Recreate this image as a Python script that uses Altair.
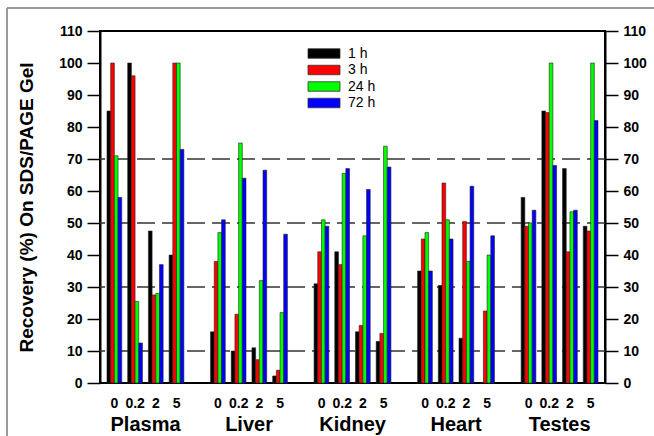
import altair as alt
import pandas as pd

tissues = ["Plasma", "Liver", "Kidney", "Heart", "Testes"]
doses = ["0", "0.2", "2", "5"]
times = ["1 h", "3 h", "24 h", "72 h"]
colors = ["#000000", "#ff0000", "#00ff00", "#0000ff"]

# values ordered tissue by tissue, dose 0, 0.2, 2, 5 within each tissue
h1 = [85, 100, 47.5, 40, 16, 10, 11, 2.2, 31, 41, 16, 13, 35, 30.5, 14, 0, 58, 85, 67, 49]
h3 = [100, 96, 27.5, 100, 38, 21.5, 7.3, 4, 41, 37, 18, 15.5, 45, 62.5, 50.5, 22.5, 49, 84.5, 41, 47.5]
h24 = [71, 25.5, 28, 100, 47, 75, 32, 22, 51, 65.5, 46, 74, 47, 51, 38, 40, 50, 100, 53.5, 100]
h72 = [58, 12.5, 37, 73, 51, 64, 66.5, 46.5, 49, 67, 60.5, 67.5, 35, 45, 61.5, 46, 54, 68, 54, 82]
series = [h1, h3, h24, h72]

grid_values = [10, 30, 50, 70]

rows = []
for k, (t, vals) in enumerate(zip(times, series)):
    for n, v in enumerate(vals):
        i, j = divmod(n, len(doses))
        rows.append({"tissue": tissues[i], "dose": doses[j], "time": t,
                     "ti": i, "dj": j, "tk": k, "value": v})
df = pd.DataFrame(rows)

dose_lab = pd.DataFrame([{"ti": i, "dj": j, "label": d}
                         for i in range(len(tissues)) for j, d in enumerate(doses)])
tissue_lab = pd.DataFrame([{"ti": i, "label": t} for i, t in enumerate(tissues)])
grid_df = pd.DataFrame({"v": grid_values})
legend_df = pd.DataFrame({"time": times})

FONT = "Liberation Sans"
W, H = 505, 352
BW = 0.178
xscale = alt.Scale(domain=[-0.338, 24.05], nice=False, zero=False)
yscale = alt.Scale(domain=[0, 110], nice=False)
cscale = alt.Scale(domain=times, range=colors)
legend_y = alt.Scale(type="point", domain=times, range=[22.5, 72], padding=0)

axis_common = dict(values=list(range(0, 111, 10)), labelFont=FONT, labelFontSize=14,
                   labelFontWeight="bold", labelColor="black", tickColor="black",
                   tickWidth=1.5, tickSize=13, domainColor="black", domainWidth=2,
                   grid=False, labelPadding=5)

bars = alt.Chart(df).transform_calculate(
    x0=f"datum.ti*5 + datum.dj + datum.tk*{BW}",
    x1=f"datum.ti*5 + datum.dj + (datum.tk+1)*{BW}",
).mark_bar(stroke="#222222", strokeWidth=0.6).encode(
    x=alt.X("x0:Q", scale=xscale, axis=None),
    x2="x1:Q",
    y=alt.Y("value:Q", scale=yscale,
            axis=alt.Axis(orient="left", title="Recovery (%) On SDS/PAGE Gel",
                          titleFont=FONT, titleFontSize=19, titleFontWeight="bold",
                          titleColor="black", titleX=-74, titleY=H / 2,
                          titleAngle=270, titleAlign="center", titleBaseline="middle",
                          **axis_common)),
    y2=alt.datum(0),
    color=alt.Color("time:N", sort=times, scale=cscale, legend=None),
)

grid = alt.Chart(grid_df).mark_rule(color="#333333", strokeWidth=1.3,
                                    strokeDash=[18, 7]).encode(
    y=alt.Y("v:Q", scale=yscale,
            axis=alt.Axis(orient="right", title=None, **axis_common)),
)

legend_sw = alt.Chart(legend_df).mark_point(
    shape="M-3.2,-0.95H3.2V0.95H-3.2Z", size=100, filled=True, opacity=1,
    stroke="#333333", strokeWidth=0.8,
).encode(
    x=alt.value(224),
    y=alt.Y("time:N", scale=legend_y, axis=None),
    color=alt.Color("time:N", sort=times, scale=cscale, legend=None),
)

legend_tx = alt.Chart(legend_df).mark_text(
    font=FONT, fontSize=14, color="black", align="left", baseline="middle",
).encode(
    x=alt.value(248),
    y=alt.Y("time:N", scale=legend_y, axis=None),
    text="time:N",
)

dose_text = alt.Chart(dose_lab).transform_calculate(
    pos="datum.ti*5 + datum.dj + 0.36"
).mark_text(font=FONT, fontSize=14, fontWeight="bold", color="black",
            baseline="alphabetic").encode(
    x=alt.X("pos:Q", scale=xscale, axis=None),
    y=alt.value(H + 25),
    text="label:N",
)

tissue_text = alt.Chart(tissue_lab).transform_calculate(
    pos="datum.ti*5 + 1.86"
).mark_text(font=FONT, fontSize=20, fontWeight="bold", color="black",
            baseline="alphabetic").encode(
    x=alt.X("pos:Q", scale=xscale, axis=None),
    y=alt.value(H + 48),
    text="label:N",
)

frame_top = alt.Chart(grid_df).mark_rule(color="#999999", strokeWidth=1.5).encode(
    x=alt.value(-93), x2=alt.value(560), y=alt.value(-23))
frame_left = alt.Chart(grid_df).mark_rule(color="#999999", strokeWidth=1.5).encode(
    x=alt.value(-93), y=alt.value(-23), y2=alt.value(420))

chart = alt.layer(grid, bars, legend_sw, legend_tx, dose_text, tissue_text,
                  frame_top, frame_left).resolve_scale(
    y="independent"
).properties(
    width=W, height=H,
    autosize=alt.AutoSizeParams(type="none"),
    padding={"left": 100, "top": 31, "right": 49, "bottom": 53},
).configure_view(stroke="black", strokeWidth=2)

chart.save("out.html", embed_options={"renderer": "svg", "actions": False})
